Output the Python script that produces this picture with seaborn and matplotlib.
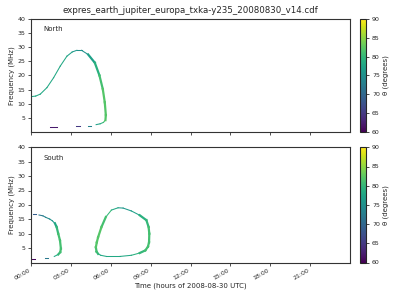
import numpy as np
import pandas as pd
import matplotlib
matplotlib.use("Agg")
import matplotlib.pyplot as plt
import seaborn as sns
from matplotlib.colors import Normalize
from matplotlib.cm import ScalarMappable

TITLE = "expres_earth_jupiter_europa_txka-y235_20080830_v14.cdf"
XTICK_HOURS = [0, 3, 6, 9, 12, 15, 18, 21]
XTICK_LABELS = ["00:00", "03:00", "06:00", "09:00", "12:00", "15:00", "18:00", "21:00"]
YTICKS = [5, 10, 15, 20, 25, 30, 35, 40]
CBAR_TICKS = [60, 65, 70, 75, 80, 85, 90]

# North hemisphere curves (time in hours, frequency MHz, theta degrees)
north_main_t = [0.0, 0.35, 0.7, 1.2, 1.7, 2.2, 2.7, 3.1, 3.45, 3.8, 4.3, 4.8, 5.15, 5.4, 5.55, 5.63, 5.6, 5.45, 5.2, 4.9]
north_main_f = [12.5, 12.7, 13.4, 15.7, 19.2, 23.3, 26.8, 28.3, 28.9, 28.9, 27.4, 24.5, 20.0, 15.2, 10.5, 6.0, 4.2, 3.4, 2.9, 2.6]
north_main_th = [78, 78, 78, 78, 78, 78, 77, 76, 75, 75, 77, 79, 81, 82, 82, 82, 81, 79, 77, 76]
north_d1_t = [4.3, 4.55]
north_d1_f = [2.2, 2.2]
north_d1_th = [73, 73]
north_d2_t = [3.4, 3.7]
north_d2_f = [2.0, 2.0]
north_d2_th = [65, 65]
north_d3_t = [1.4, 1.95]
north_d3_f = [1.6, 1.6]
north_d3_th = [62, 62]

# South hemisphere curves
south_left_t = [0.6, 0.9, 1.1, 1.4, 1.6, 1.8, 1.93, 2.05, 2.18, 2.25, 2.2, 2.05, 1.75]
south_left_f = [16.5, 16.2, 15.7, 15.1, 14.5, 13.6, 12.3, 10.0, 7.7, 4.8, 3.6, 2.8, 2.1]
south_left_th = [72, 73, 74, 75, 76, 78, 80, 81, 81, 81, 80, 78, 76]
south_d1_t = [0.17, 0.38]
south_d1_f = [17.0, 17.0]
south_d1_th = [69, 69]
south_d2_t = [1.05, 1.3]
south_d2_f = [1.65, 1.65]
south_d2_th = [72, 72]
south_d3_t = [0.0, 0.3]
south_d3_f = [1.3, 1.3]
south_d3_th = [60.5, 60.5]
south_loop_t = [5.05, 4.93, 4.88, 4.95, 5.05, 5.3, 5.63, 6.05, 6.55, 6.93, 7.55, 8.18, 8.68, 8.85, 8.9, 8.88, 8.8, 8.6, 8.18, 7.55, 6.68, 5.68, 5.25, 5.05]
south_loop_f = [3.0, 3.8, 5.3, 7.0, 8.8, 12.3, 15.8, 18.2, 19.0, 18.9, 17.9, 16.4, 14.7, 12.3, 10.0, 7.0, 5.5, 4.2, 3.3, 2.5, 2.1, 2.1, 2.5, 3.0]
south_loop_th = [80, 81, 82, 82, 82, 81, 80, 78, 76, 76, 77, 79, 80, 81, 81, 81, 81, 80, 79, 78, 78, 78, 78, 79]

NORTH = {"main": (north_main_t, north_main_f, north_main_th),
         "d1": (north_d1_t, north_d1_f, north_d1_th),
         "d2": (north_d2_t, north_d2_f, north_d2_th),
         "d3": (north_d3_t, north_d3_f, north_d3_th)}
SOUTH = {"left": (south_left_t, south_left_f, south_left_th),
         "d1": (south_d1_t, south_d1_f, south_d1_th),
         "d2": (south_d2_t, south_d2_f, south_d2_th),
         "d3": (south_d3_t, south_d3_f, south_d3_th),
         "loop": (south_loop_t, south_loop_f, south_loop_th)}

# style: segment index spans drawn thicker
THICK = {("N", "main"): [(10, 16)], ("S", "left"): [(5, 11)],
         ("S", "loop"): [(0, 6), (11, 18)]}
LW = {False: 0.75, True: 1.6}


def segments(tag, curves):
    rows = []
    for name, (t, f, th) in curves.items():
        spans = THICK.get((tag, name), [])
        for i in range(len(t) - 1):
            thick = any(a <= i < b for a, b in spans)
            uid = f"{tag}-{name}-{i}"
            for j in (i, i + 1):
                rows.append({"unit": uid, "t": t[j], "f": f[j],
                             "theta": th[i], "thick": thick})
    return pd.DataFrame(rows)


sns.set_theme(style="ticks")
plt.rcParams["font.family"] = ["DejaVu Sans"]

fig = plt.figure(figsize=(4, 3), dpi=100)
ax1 = fig.add_axes([0.0775, 0.56, 0.7975, 0.377])
ax2 = fig.add_axes([0.0775, 0.125, 0.7975, 0.384])
cax1 = fig.add_axes([0.90, 0.56, 0.016, 0.377])
cax2 = fig.add_axes([0.90, 0.125, 0.016, 0.384])

norm = Normalize(60, 90)

for ax, tag, curves, label in [(ax1, "N", NORTH, "North"), (ax2, "S", SOUTH, "South")]:
    df = segments(tag, curves)
    for thick, sub in df.groupby("thick"):
        sns.lineplot(data=sub, x="t", y="f", hue="theta", units="unit",
                     estimator=None, sort=False, palette="viridis",
                     hue_norm=(60, 90), legend=False, ax=ax,
                     linewidth=LW[bool(thick)], solid_capstyle="projecting")
    ax.set_xlim(0, 24)
    ax.set_ylim(0, 40)
    ax.set_yticks(YTICKS)
    ax.set_xticks(XTICK_HOURS)
    ax.set_ylabel("Frequency (MHz)", fontsize=5, labelpad=2)
    ax.set_xlabel("")
    ax.tick_params(labelsize=4.5, length=2.5, width=0.6, pad=1.5, color="#333333")
    for s in ax.spines.values():
        s.set_linewidth(0.8)
        s.set_color("#333333")
    ax.text(0.038, 0.91, label, transform=ax.transAxes, fontsize=5, va="center")

ax1.set_xticklabels([])
ax2.set_xticklabels(XTICK_LABELS, rotation=30, ha="right")
ax2.set_xlabel("Time (hours of 2008-08-30 UTC)", fontsize=5, labelpad=1)
ax1.set_title(TITLE, fontsize=6.2, pad=4)

for cax in (cax1, cax2):
    cb = fig.colorbar(ScalarMappable(norm=norm, cmap="viridis"), cax=cax)
    cb.set_ticks(CBAR_TICKS)
    cb.set_label("θ (degrees)", fontsize=5, labelpad=2)
    cb.ax.tick_params(labelsize=4.5, length=2.5, width=0.6, pad=1.5)
    cb.outline.set_linewidth(0.8)

fig.savefig("out.png", dpi=100)
